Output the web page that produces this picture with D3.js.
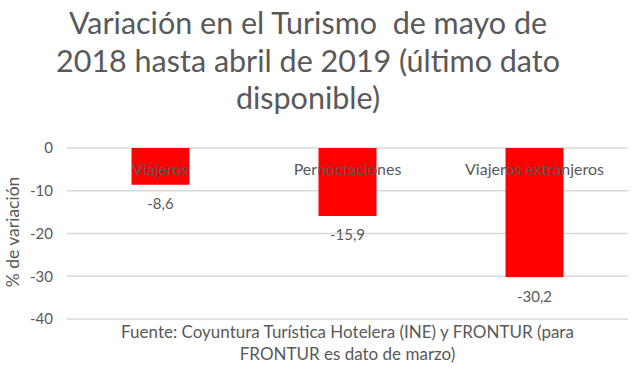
<!DOCTYPE html>
<html><head><meta charset="utf-8">
<script src="https://cdn.jsdelivr.net/npm/d3@7"></script>
<style>body{margin:0;background:#fff}svg{display:block}text{font-family:Lato,"Open Sans",sans-serif;fill:#595959}</style>
</head><body><svg id="c" width="637" height="377"></svg>
<script>
const categories = ["Viajeros", "Pernoctaciones", "Viajeros extranjeros"];
const values = [-8.6, -15.9, -30.2];
const valueLabels = ["-8,6", "-15,9", "-30,2"];
const yTicks = [0, -10, -20, -30, -40];
const titleLines = ["Variación en el Turismo  de mayo de", "2018 hasta abril de 2019 (último dato", "disponible)"];
const yTitle = "% de variación";
const sourceLines = ["Fuente: Coyuntura Turística Hotelera (INE) y FRONTUR (para", "FRONTUR es dato de marzo)"];

const svg = d3.select("#c");
const m = {left: 67, right: 628, top: 148, bottom: 319};
const x = d3.scaleBand().domain(categories).range([m.left, m.right]).paddingInner(0.69).paddingOuter(0.345);
const y = d3.scaleLinear().domain([0, -40]).range([m.top, m.bottom]);

// gridlines
svg.append("g").selectAll("line").data(yTicks).join("line")
  .attr("x1", m.left).attr("x2", m.right)
  .attr("y1", d => y(d)).attr("y2", d => y(d))
  .attr("stroke", "#d9d9d9").attr("stroke-width", 1.3);

// y axis labels
const yAxis = d3.axisLeft(y).tickValues(yTicks).tickSize(0).tickPadding(14).tickFormat(d => d3.format("d")(d).replace("−", "-"));
const ga = svg.append("g").attr("transform", `translate(${m.left},0)`).call(yAxis);
ga.select(".domain").remove();
ga.selectAll("text").style("font-size", "15px").style("fill", "#595959").style("font-family", "Lato");

// bars
svg.append("g").selectAll("rect").data(values).join("rect")
  .attr("x", (d, i) => x(categories[i]))
  .attr("width", x.bandwidth())
  .attr("y", y(0))
  .attr("height", d => y(d) - y(0))
  .attr("fill", "#ff0000");

// category labels (near the zero axis)
svg.append("g").selectAll("text").data(categories).join("text")
  .attr("x", d => x(d) + x.bandwidth() / 2)
  .attr("y", y(0) + 27)
  .attr("text-anchor", "middle")
  .style("font-size", "16px")
  .text(d => d);

// value labels
svg.append("g").selectAll("text").data(values).join("text")
  .attr("x", (d, i) => x(categories[i]) + x.bandwidth() / 2)
  .attr("y", d => y(d) + 24.5)
  .attr("text-anchor", "middle")
  .style("font-size", "15px")
  .text((d, i) => valueLabels[i]);

// title
svg.append("g").selectAll("text").data(titleLines).join("text")
  .attr("x", 308).attr("y", (d, i) => 34 + i * 37.5)
  .attr("text-anchor", "middle")
  .style("font-size", "30.5px").style("white-space", "pre")
  .text(d => d);

// y title
svg.append("text")
  .attr("transform", `translate(19,232) rotate(-90)`)
  .attr("text-anchor", "middle")
  .style("font-size", "17.5px")
  .text(yTitle);

// source
svg.append("g").selectAll("text").data(sourceLines).join("text")
  .attr("x", (m.left + m.right) / 2).attr("y", (d, i) => 338 + i * 22)
  .attr("text-anchor", "middle")
  .style("font-size", "17px")
  .text(d => d);
</script></body></html>
